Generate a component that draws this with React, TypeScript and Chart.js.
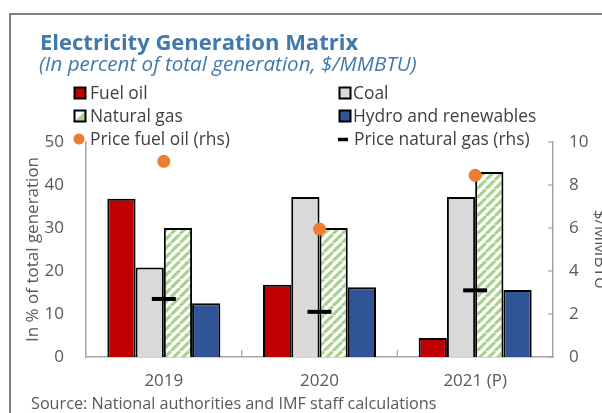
import { useEffect, useRef } from "react";
import { Chart, registerables } from "chart.js";
Chart.register(...registerables);

const categories = ["2019", "2020", "2021 (P)"];
const fuelOil = [36.8, 16.8, 4.4];
const coal = [20.8, 37.2, 37.2];
const naturalGas = [30, 30, 43];
const hydro = [12.5, 16.2, 15.6];
const priceFuelOil = [9.1, 5.95, 8.45];
const priceNaturalGas = [2.7, 2.1, 3.1];
const seriesLabels = [
  "Fuel oil",
  "Coal",
  "Natural gas",
  "Hydro and renewables",
  "Price fuel oil (rhs)",
  "Price natural gas (rhs)",
];
const titleText = "Electricity Generation Matrix";
const subtitleText = "(In percent of total generation, $/MMBTU)";
const sourceText = "Source: National authorities and IMF staff calculations";
const leftAxisTitle = "In % of total generation";
const rightAxisTitle = "$/MMBTU";

const FONT = "'Open Sans', 'Noto Sans', sans-serif";
const GRAY = "#595959";
const AXIS = "#A6A6A6";
const BLUE_TITLE = "#4179AC";
const GREEN = "#A9D18E";

function makePattern(): CanvasPattern | string {
  const c = document.createElement("canvas");
  const s = 9;
  c.width = s;
  c.height = s;
  const g = c.getContext("2d");
  if (!g) return GREEN;
  g.fillStyle = "#ffffff";
  g.fillRect(0, 0, s, s);
  g.strokeStyle = GREEN;
  g.lineWidth = 3.2;
  g.beginPath();
  for (const k of [-s, 0, s]) {
    g.moveTo(k, s);
    g.lineTo(k + s, 0);
  }
  g.stroke();
  return g.createPattern(c, "repeat") || GREEN;
}

const decorPlugin = {
  id: "decor",
  afterDraw(chart: any) {
    const ctx: CanvasRenderingContext2D = chart.ctx;
    const x = chart.scales.x;
    const y1 = chart.scales.y1;
    const area = chart.chartArea;
    ctx.save();
    // frame
    ctx.strokeStyle = GRAY;
    ctx.lineWidth = 1.5;
    ctx.beginPath();
    ctx.moveTo(10, 420);
    ctx.lineTo(10, 14);
    ctx.lineTo(610, 14);
    ctx.stroke();

    // title + subtitle
    ctx.textAlign = "left";
    ctx.textBaseline = "alphabetic";
    ctx.fillStyle = BLUE_TITLE;
    ctx.font = `bold 22px ${FONT}`;
    ctx.fillText(titleText, 40, 50);
    ctx.font = `italic 20.6px ${FONT}`;
    ctx.fillText(subtitleText, 39, 71);

    // inner ticks on x axis between categories
    ctx.strokeStyle = AXIS;
    ctx.lineWidth = 1.2;
    for (let i = 1; i < categories.length; i++) {
      const px = (x.getPixelForValue(i - 1) + x.getPixelForValue(i)) / 2;
      ctx.beginPath();
      ctx.moveTo(px, area.bottom);
      ctx.lineTo(px, area.bottom - 7);
      ctx.stroke();
    }
    // inner ticks on right axis
    for (const t of y1.ticks) {
      const py = y1.getPixelForValue(t.value);
      ctx.beginPath();
      ctx.moveTo(area.right - 5, py);
      ctx.lineTo(area.right, py);
      ctx.stroke();
    }

    // legend
    const ds = chart.data.datasets;
    ctx.font = `17.4px ${FONT}`;
    ctx.textBaseline = "middle";
    const rowsY = [93, 116, 139];
    for (let i = 0; i < 4; i++) {
      const col = i % 2;
      const row = Math.floor(i / 2);
      const bx = col === 0 ? 74.5 : 339.5;
      const by = rowsY[row] - 5.5;
      if (i === 2) {
        ctx.fillStyle = "#ffffff";
        ctx.fillRect(bx, by, 11, 11);
        ctx.fillStyle = GREEN;
        ctx.beginPath();
        ctx.moveTo(bx, by + 11);
        ctx.lineTo(bx + 11, by);
        ctx.lineTo(bx + 11, by + 11);
        ctx.closePath();
        ctx.fill();
      } else {
        ctx.fillStyle = ds[i].backgroundColor;
        ctx.fillRect(bx, by, 11, 11);
      }
      ctx.strokeStyle = "#000";
      ctx.lineWidth = 2;
      ctx.strokeRect(bx, by, 11, 11);
      ctx.fillStyle = "#404040";
      ctx.fillText(ds[i].label, col === 0 ? 90 : 353, rowsY[row] + 1);
    }
    // price legend row
    ctx.fillStyle = "#ED7D31";
    ctx.beginPath();
    ctx.arc(79, 139, 5.5, 0, Math.PI * 2);
    ctx.fill();
    ctx.fillStyle = "#404040";
    ctx.fillText(ds[4].label, 90, 140);
    ctx.strokeStyle = "#000";
    ctx.lineWidth = 3.5;
    ctx.beginPath();
    ctx.moveTo(338, 139.5);
    ctx.lineTo(348, 139.5);
    ctx.stroke();
    ctx.fillStyle = "#404040";
    ctx.fillText(ds[5].label, 354, 140);

    // source
    ctx.textBaseline = "alphabetic";
    ctx.fillStyle = GRAY;
    ctx.font = `16.2px ${FONT}`;
    ctx.fillText(sourceText, 31, 409);
    ctx.restore();
  },
};

export default function App() {
  const ref = useRef<HTMLCanvasElement>(null);
  useEffect(() => {
    if (!ref.current) return;
    const pattern = makePattern();
    const barCommon = {
      type: "bar" as const,
      borderColor: "#000000",
      borderWidth: 2,
      barPercentage: 1,
      categoryPercentage: 0.726,
      yAxisID: "y",
      order: 2,
    };
    const tickFont = { family: FONT, size: 17 };
    const chart = new Chart(ref.current, {
      type: "bar",
      data: {
        labels: categories,
        datasets: [
          { ...barCommon, label: seriesLabels[0], data: fuelOil, backgroundColor: "#C00000" },
          { ...barCommon, label: seriesLabels[1], data: coal, backgroundColor: "#D9D9D9" },
          { ...barCommon, label: seriesLabels[2], data: naturalGas, backgroundColor: pattern as any },
          { ...barCommon, label: seriesLabels[3], data: hydro, backgroundColor: "#2F5597" },
          {
            type: "line" as const,
            label: seriesLabels[4],
            data: priceFuelOil,
            yAxisID: "y1",
            showLine: false,
            pointStyle: "circle",
            pointRadius: 6.5,
            pointBackgroundColor: "#ED7D31",
            pointBorderWidth: 0,
            backgroundColor: "#ED7D31",
            borderColor: "#ED7D31",
            order: 0,
          } as any,
          {
            type: "line" as const,
            label: seriesLabels[5],
            data: priceNaturalGas,
            yAxisID: "y1",
            showLine: false,
            pointStyle: "line",
            pointRadius: 12,
            pointBorderWidth: 4,
            pointBorderColor: "#000000",
            borderColor: "#000000",
            backgroundColor: "#000000",
            order: 0,
          } as any,
        ],
      },
      options: {
        responsive: false,
        animation: false,
        devicePixelRatio: 1,
        layout: { padding: { top: 142, left: 0, right: 0, bottom: 0 } },
        plugins: {
          legend: { display: false },
          title: { display: false },
          tooltip: { enabled: false },
        },
        scales: {
          x: {
            grid: { display: false, drawTicks: false },
            border: { display: true, color: AXIS, width: 1.5 },
            ticks: { color: GRAY, font: tickFont, padding: 14, maxRotation: 0 },
            afterFit: (s: any) => {
              s.height = 56;
            },
          },
          y: {
            position: "left",
            min: 0,
            max: 50,
            ticks: { stepSize: 10, color: GRAY, font: tickFont, padding: 22 },
            grid: { display: false, drawTicks: false },
            border: { display: true, color: AXIS, width: 1.5 },
            title: {
              display: true,
              text: leftAxisTitle,
              color: GRAY,
              font: tickFont,
              padding: { top: 23, bottom: 0 },
            },
            afterFit: (s: any) => {
              s.width = 86;
            },
          },
          y1: {
            position: "right",
            min: 0,
            max: 10,
            ticks: { stepSize: 2, color: GRAY, font: tickFont, padding: 16 },
            grid: { display: false, drawTicks: false },
            border: { display: true, color: AXIS, width: 1.5 },
            title: {
              display: true,
              text: rightAxisTitle,
              color: GRAY,
              font: tickFont,
              padding: { top: -8, bottom: 0 },
            },
            afterFit: (s: any) => {
              s.width = 49;
            },
          },
        },
      } as any,
      plugins: [decorPlugin],
    });
    return () => chart.destroy();
  }, []);
  return (
    <div style={{ position: "fixed", left: 0, top: 0, width: 602, height: 413, background: "#fff" }}>
      <canvas ref={ref} width={602} height={413} style={{ width: 602, height: 413, display: "block" }} />
    </div>
  );
}
